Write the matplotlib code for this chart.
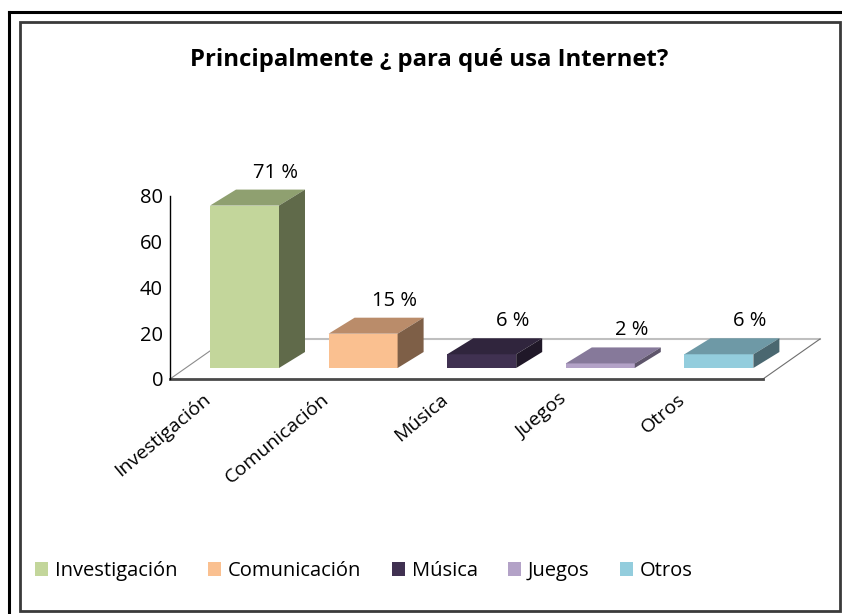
import matplotlib.pyplot as plt
from matplotlib.patches import Polygon, Rectangle, Patch

categories = ['Investigación', 'Comunicación', 'Música', 'Juegos', 'Otros']
values = [71, 15, 6, 2, 6]
pct_labels = ['71 %', '15 %', '6 %', '2 %', '6 %']
yticks = [0, 20, 40, 60, 80]

front_colors = ['#C3D69B', '#FAC090', '#403151', '#B3A2C7', '#93CDDD']
top_colors = ['#8FA070', '#BA8C6A', '#30253D', '#86799A', '#6E99A6']
side_colors = ['#606A4A', '#7E5F47', '#201828', '#5E556B', '#4A6770']

plt.rcParams['font.family'] = ['Open Sans', 'DejaVu Sans']

W, H = 842, 614
fig = plt.figure(figsize=(W / 100, H / 100), dpi=100)

# axes box in pixels: x 170..763, y 379 (value 0) .. 196 (value 80)
ax_l, ax_r, ax_b, ax_t = 170, 763, 379, 196
ax = fig.add_axes([ax_l / W, (H - ax_b) / H, (ax_r - ax_l) / W, (ax_b - ax_t) / H])
ax.set_xlim(0, len(categories))
ax.set_ylim(0, 80)
px_x = len(categories) / (ax_r - ax_l)
px_y = 80 / (ax_b - ax_t)

for s in ['top', 'right', 'bottom']:
    ax.spines[s].set_visible(False)
ax.spines['left'].set_linewidth(1.0)
ax.set_yticks(yticks)
ax.tick_params(axis='y', length=0, pad=5, labelsize=14.5)
ax.set_xticks([])
ax.patch.set_alpha(0)

# floor
fdx, fdy = 57 * px_x, 40 * px_y
n = len(categories)
floor = Polygon([(0, 0), (n, 0), (n + fdx, fdy), (fdx, fdy)], closed=True,
                facecolor='white', edgecolor='none', clip_on=False, zorder=1)
ax.add_patch(floor)
ax.plot([fdx, n + fdx], [fdy, fdy], color='#BFBFBF', lw=1.5, clip_on=False, zorder=2)
ax.plot([0, fdx], [0, fdy], color='#8C8C8C', lw=0.8, clip_on=False, zorder=2)
ax.plot([n, n + fdx], [0, fdy], color='#6E6E6E', lw=0.8, clip_on=False, zorder=2)
ax.plot([0, n], [0, 0], color='#4A4A4A', lw=2, clip_on=False, zorder=2)

# 3d bars
bw = 69 * px_x
off_x = 40 * px_x
off_y = 11 * px_y
bdx, bdy = 26 * px_x, 16 * px_y
for i, v in enumerate(values):
    x0 = i + off_x
    yb = off_y
    ax.add_patch(Rectangle((x0, yb), bw, v, facecolor=front_colors[i],
                           edgecolor='none', clip_on=False, zorder=3))
    ax.add_patch(Polygon([(x0, yb + v), (x0 + bw, yb + v), (x0 + bw + bdx, yb + v + bdy),
                          (x0 + bdx, yb + v + bdy)], closed=True, facecolor=top_colors[i],
                         edgecolor='none', clip_on=False, zorder=3))
    ax.add_patch(Polygon([(x0 + bw, yb), (x0 + bw, yb + v), (x0 + bw + bdx, yb + v + bdy),
                          (x0 + bw + bdx, yb + bdy)], closed=True, facecolor=side_colors[i],
                         edgecolor='none', clip_on=False, zorder=3))
    ax.text(x0 + bw / 2 + 31 * px_x, yb + v + bdy + 17 * px_y, pct_labels[i],
            ha='center', va='center', fontsize=14.5, zorder=4)
    ax.text(i + 0.5 - 21 * px_x, -18 * px_y, categories[i], rotation=40,
            rotation_mode='anchor', ha='right', va='center', fontsize=14)

fig.text(429.5 / W, 1 - 60 / H, 'Principalmente ¿ para qué usa Internet?',
         ha='center', va='center', fontsize=17.2, fontweight='bold')

handles = [Patch(facecolor=c, edgecolor='none') for c in front_colors]
fig.legend(handles, categories, loc='center left', bbox_to_anchor=(35 / W, 1 - 571 / H),
           ncol=5, frameon=False, fontsize=14.5, handlelength=0.65, handleheight=0.65,
           handletextpad=0.35, columnspacing=1.5, borderaxespad=0, borderpad=0)

# chart borders
fig.add_artist(Rectangle((20 / W, 1 - 611 / H), 820 / W, 589 / H, transform=fig.transFigure,
                         fill=False, edgecolor='#3A3A3A', lw=2))
fig.add_artist(plt.Line2D([9 / W, 9 / W], [0, 1 - 12 / H], transform=fig.transFigure,
                          color='black', lw=2.2))
fig.add_artist(plt.Line2D([9 / W, 1], [1 - 12 / H, 1 - 12 / H], transform=fig.transFigure,
                          color='black', lw=2.2))

fig.savefig('out.png', dpi=100)
